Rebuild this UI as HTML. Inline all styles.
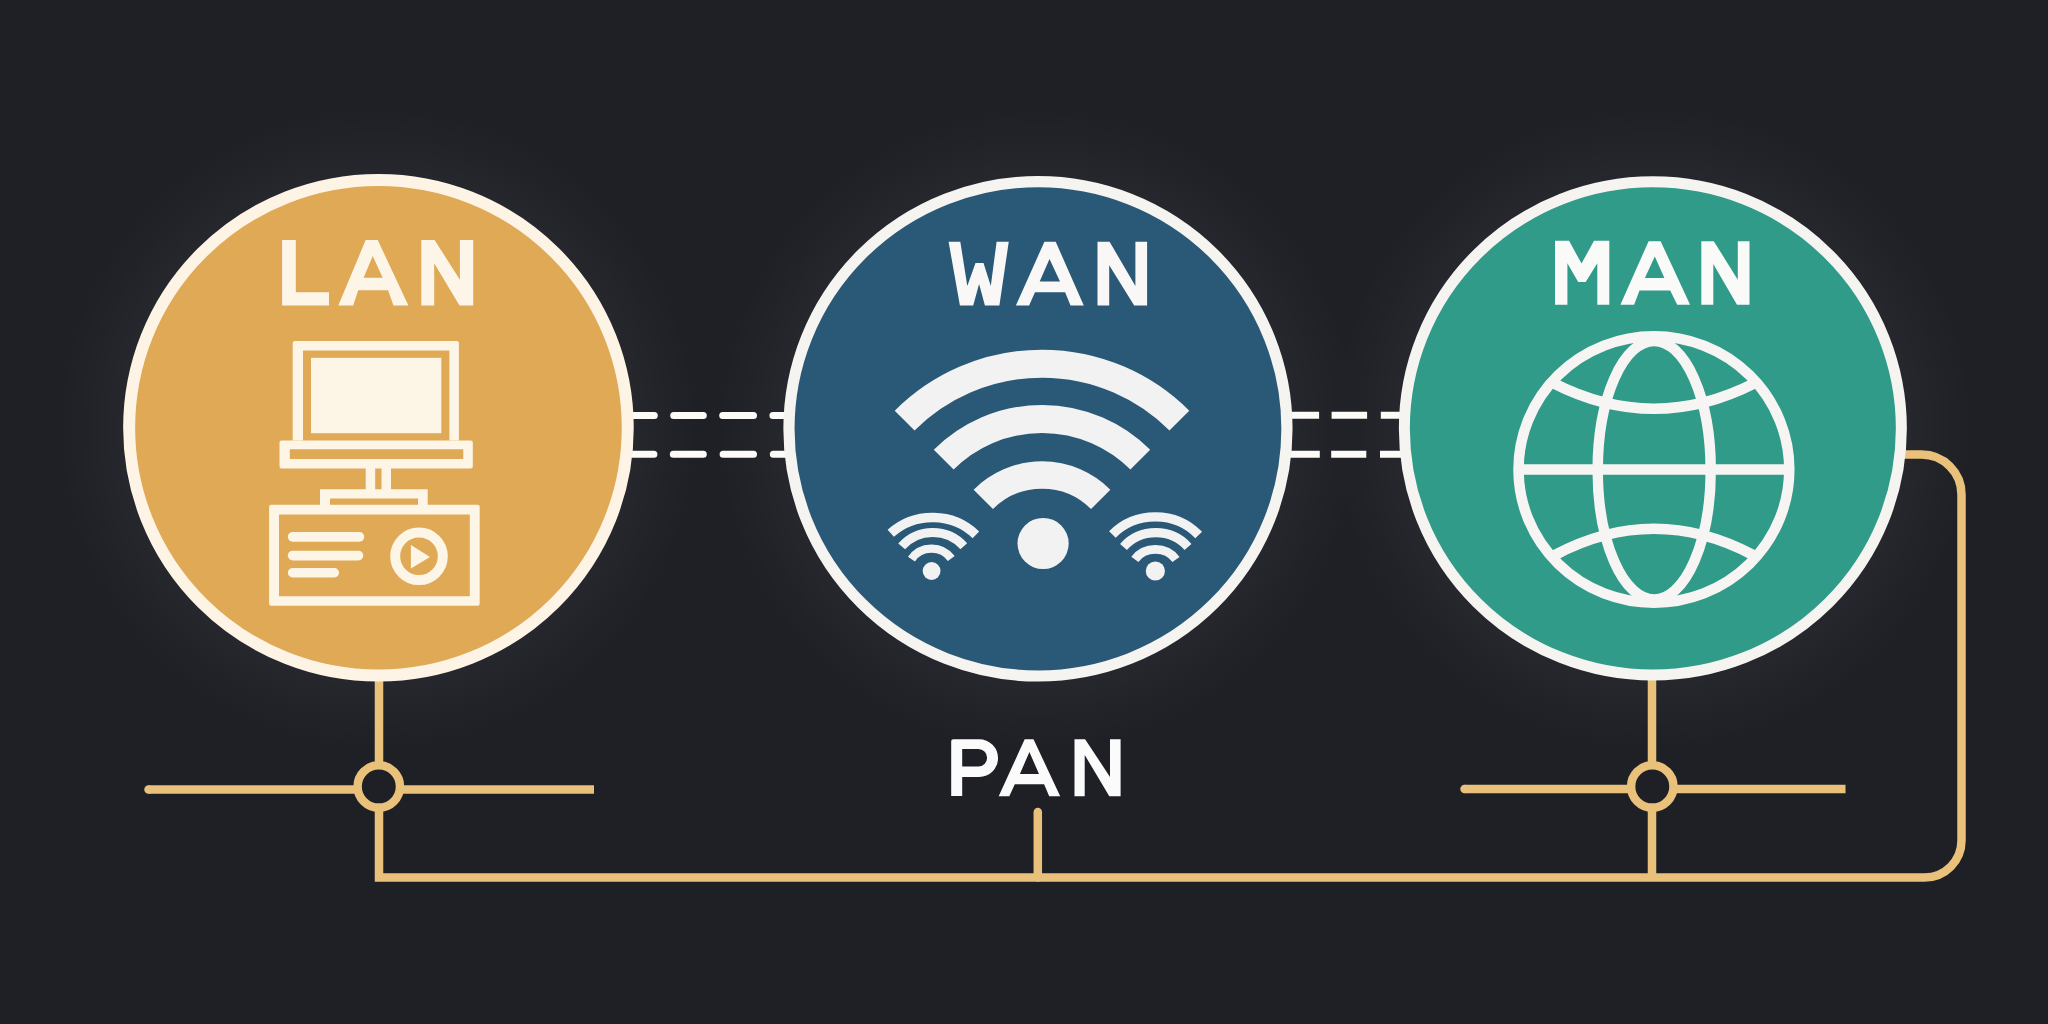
<!DOCTYPE html>
<html>
<head>
<meta charset="utf-8">
<style>
html,body{margin:0;padding:0;background:#1e2026;width:2048px;height:1024px;overflow:hidden;font-family:"Liberation Sans",sans-serif;}
svg{display:block;position:absolute;left:0;top:0;}
</style>
</head>
<body>
<svg width="2048" height="1024" viewBox="0 0 2048 1024">
<defs>
<radialGradient id="halo" cx="50%" cy="50%" r="50%">
<stop offset="0.78" stop-color="#ffffff" stop-opacity="0.035"/>
<stop offset="1" stop-color="#ffffff" stop-opacity="0"/>
</radialGradient>
</defs>
<rect x="0" y="0" width="2048" height="1024" fill="#1e2026"/>
<circle cx="378" cy="428" r="320" fill="url(#halo)"/>
<circle cx="1038" cy="429" r="320" fill="url(#halo)"/>
<circle cx="1653" cy="428" r="320" fill="url(#halo)"/>

<!-- gold connector lines -->
<g fill="none" stroke="#e9c17b" stroke-width="8.5">
  <!-- LAN vertical + bottom line + right loop -->
  <path d="M379 676 V877.5 H1924.5 A37 37 0 0 0 1961.5 840.5 V494.5 A40 40 0 0 0 1921.5 454.5 H1900" stroke-linejoin="miter"/>
  <!-- LAN horizontal -->
  <path d="M148.5 789.5 H594" stroke-linecap="butt"/>
  <!-- MAN vertical -->
  <path d="M1652 676 V877.5"/>
  <!-- MAN horizontal -->
  <path d="M1464.5 789 H1845.5"/>
  <!-- PAN tick -->
  <path d="M1037.8 812 V877.5" stroke-linecap="round"/>
</g>
<g fill="#e9c17b">
  <circle cx="148.5" cy="789.5" r="4.25"/>
  <circle cx="1464.5" cy="789" r="4.25"/>
</g>
<!-- junction rings -->
<g fill="#1e2026" stroke="#e9c17b" stroke-width="8.5">
  <circle cx="378.8" cy="786.4" r="21.2"/>
  <circle cx="1652.3" cy="786.4" r="21.2"/>
</g>

<!-- dashes -->
<g stroke="#fcfbf8" stroke-width="7" stroke-linecap="round" fill="none">
  <path d="M630 415.5 H654.3 M673.7 415.5 H703.3 M722.7 415.5 H753.5 M772.9 415.5 H790"/>
  <path d="M630 454.2 H653.9 M673.3 454.2 H703.3 M723.1 454.2 H753.5 M773.3 454.2 H790"/>
</g>
<g stroke="#fcfbf8" stroke-width="7" stroke-linecap="butt" fill="none">
  <path d="M1285 415.3 H1319.1 M1331.6 415.3 H1367.1 M1380.8 415.3 H1405"/>
  <path d="M1285 454.2 H1319.8 M1331.2 454.2 H1366.3 M1380 454.2 H1405"/>
</g>

<!-- LAN circle -->
<ellipse cx="378.45" cy="427.75" rx="249.3" ry="247.8" fill="#dfa955" stroke="#fdf4e5" stroke-width="12"/>
<!-- WAN circle -->
<ellipse cx="1037.95" cy="428.8" rx="249" ry="247.2" fill="#2a5877" stroke="#f6f4f0" stroke-width="11.2"/>
<!-- MAN circle -->
<ellipse cx="1652.85" cy="428.45" rx="248.5" ry="246.6" fill="#319b89" stroke="#f6f4f1" stroke-width="11"/>

<!-- LAN text -->
<g fill="#fdf6e8">
  <path d="M282.1 240 H295.8 V292.3 H329 V305.6 H282.1 Z"/>
  <path fill-rule="evenodd" d="M338.3 305.5 L365.7 240 H377.7 L408.4 305.5 H393.5 L388.1 290.2 H358.2 L353.2 305.5 Z M363.6 277.7 L372.7 256.1 L382.7 277.7 Z"/>
  <path d="M421.3 305.5 V240 H434.6 L459.9 279.8 V240 H473.2 V305.5 H459.5 L434.2 263.2 V305.5 Z"/>
</g>
<!-- WAN text -->
<g fill="#f9f8f7">
  <path d="M948.6 241.8 H960.3 L967.3 285.9 L975.5 262.9 H983.5 L990.8 285.9 L996.6 241.8 H1008.75 L999.4 305.4 H984.9 L979.1 284 L973.2 305.4 H959.9 Z"/>
  <path fill-rule="evenodd" d="M1015.9 305.4 L1044.4 241.8 H1055.7 L1083.8 305.4 H1070.5 L1065.1 292.2 H1035 L1029.1 305.4 Z M1039.7 281.6 L1049.5 259 L1060 281.6 Z"/>
  <path d="M1097.5 305.4 V241.8 H1109.6 L1135.4 285.9 V241.8 H1147.1 V305.4 H1134.2 L1109.2 265.2 V305.4 Z"/>
</g>
<!-- MAN text -->
<g fill="#fafaf9">
  <path d="M1555 304.7 V240.8 H1569.1 L1581.5 263.6 L1594 240.8 H1609.3 V304.7 H1597.3 V263.2 L1585.7 281.9 H1578.2 L1567.4 263.2 V304.7 Z"/>
  <path fill-rule="evenodd" d="M1620.4 304.7 L1648.6 241.2 H1660.6 L1690.1 304.7 H1677.2 L1670.2 290.6 H1639.5 L1634.1 304.7 Z M1644.9 278.1 L1654.8 256.6 L1664.4 278.1 Z"/>
  <path d="M1701.3 304.7 V241.2 H1713.8 L1737.8 279.8 V241.2 H1749.5 V304.7 H1737 L1713.3 264 V304.7 Z"/>
</g>
<!-- PAN text -->
<g fill="#fbfbfc">
  <path fill-rule="evenodd" d="M951.2 795.9 V741.2 Q951.2 739.2 953.2 739.2 H979.2 A18.85 18.85 0 0 1 979.2 776.9 H962.2 V795.9 Z M962.2 749 H978.3 A8.8 8.8 0 0 1 978.3 766.6 H962.2 Z"/>
  <path fill-rule="evenodd" d="M998.7 796.3 L1024.7 739.2 H1033.5 L1060.2 796.3 H1049.2 L1044.1 784.2 H1014.8 L1009.3 796.3 Z M1019.9 774 L1029.4 752 L1039 774 Z"/>
  <path d="M1074.5 796.3 V739.2 H1085.1 L1110 776.9 V739.2 H1120.6 V796.3 H1109.3 L1084.7 754.9 V796.3 Z"/>
</g>

<!-- LAN icon -->
<g fill="#fdf5e6">
  <path fill-rule="evenodd" d="M292.7 343 Q292.7 341 294.7 341 H456.9 Q458.9 341 458.9 343 V440.6 H292.7 Z M303 350.5 V440.6 H449.4 V350.5 Z"/>
  <rect x="311" y="357.8" width="130.3" height="75.4"/>
  <path fill-rule="evenodd" d="M279.5 442.6 Q279.5 440.6 281.5 440.6 H470.8 Q472.8 440.6 472.8 442.6 V466.6 Q472.8 468.6 470.8 468.6 H281.5 Q279.5 468.6 279.5 466.6 Z M289.8 449.3 V458.9 H463.3 V449.3 Z"/>
  <rect x="365.7" y="467" width="9.5" height="23"/>
  <rect x="381.5" y="467" width="9.5" height="23"/>
  <path fill-rule="evenodd" d="M320 489.3 H427.7 V506 H320 Z M330 498.4 V506 H418 V498.4 Z"/>
  <path fill-rule="evenodd" d="M269.1 506.7 Q269.1 504.7 271.1 504.7 H477.7 Q479.7 504.7 479.7 506.7 V603.8 Q479.7 605.8 477.7 605.8 H271.1 Q269.1 605.8 269.1 603.8 Z M279 514.5 V596.2 H469.8 V514.5 Z"/>
  <rect x="287.8" y="532" width="76.5" height="9.7" rx="4.85"/>
  <rect x="287.8" y="550.8" width="75.5" height="9.6" rx="4.8"/>
  <rect x="287.8" y="568" width="51.3" height="9.5" rx="4.75"/>
  <path d="M410.9 545 L430 557 L410.9 568.4 Z"/>
</g>
<circle cx="419" cy="556.3" r="23.8" fill="none" stroke="#fdf5e6" stroke-width="10"/>

<!-- WAN icon -->
<g fill="none" stroke="#f2f2f3">
  <path stroke-width="28" d="M904.64 420.64 A194.25 194.25 0 0 1 1179.36 420.64"/>
  <path stroke-width="28" d="M943.71 459.71 A139 139 0 0 1 1140.29 459.71"/>
  <path stroke-width="27.3" d="M983.31 499.31 A83 83 0 0 1 1100.69 499.31"/>
  <path stroke-width="9.4" d="M890.75 533.3 A59.6 55.3 0 0 1 975.9 534.85"/>
  <path stroke-width="9" d="M901.65 546.4 A40.8 39.5 0 0 1 963.8 546.2"/>
  <path stroke-width="8.4" d="M911.45 559.1 A24 23.1 0 0 1 951.3 558.55"/>
  <path stroke-width="9.4" d="M1112.4 534.5 A58.5 55.1 0 0 1 1198.7 535.1"/>
  <path stroke-width="9.2" d="M1123.5 547 A41.8 39.3 0 0 1 1188 547"/>
  <path stroke-width="8.8" d="M1134.85 559.3 A24.8 22.7 0 0 1 1176 559.5"/>
</g>
<g fill="#f2f2f3">
  <circle cx="1043.1" cy="543.5" r="25.6"/>
  <circle cx="931.6" cy="571" r="8.9"/>
  <circle cx="1155.35" cy="571" r="9.6"/>
</g>

<!-- MAN globe -->
<g fill="none" stroke="#f6f5f3" stroke-width="10.5">
  <ellipse cx="1653.9" cy="469.5" rx="135.4" ry="133.2"/>
  <ellipse cx="1654.2" cy="470.2" rx="56.5" ry="129.3"/>
  <path d="M1518 469.5 H1790"/>
  <path d="M1553 383 Q1654 434.5 1755 383"/>
  <path d="M1555 555 Q1654 502.6 1753 555"/>
</g>
</svg>
</body>
</html>
